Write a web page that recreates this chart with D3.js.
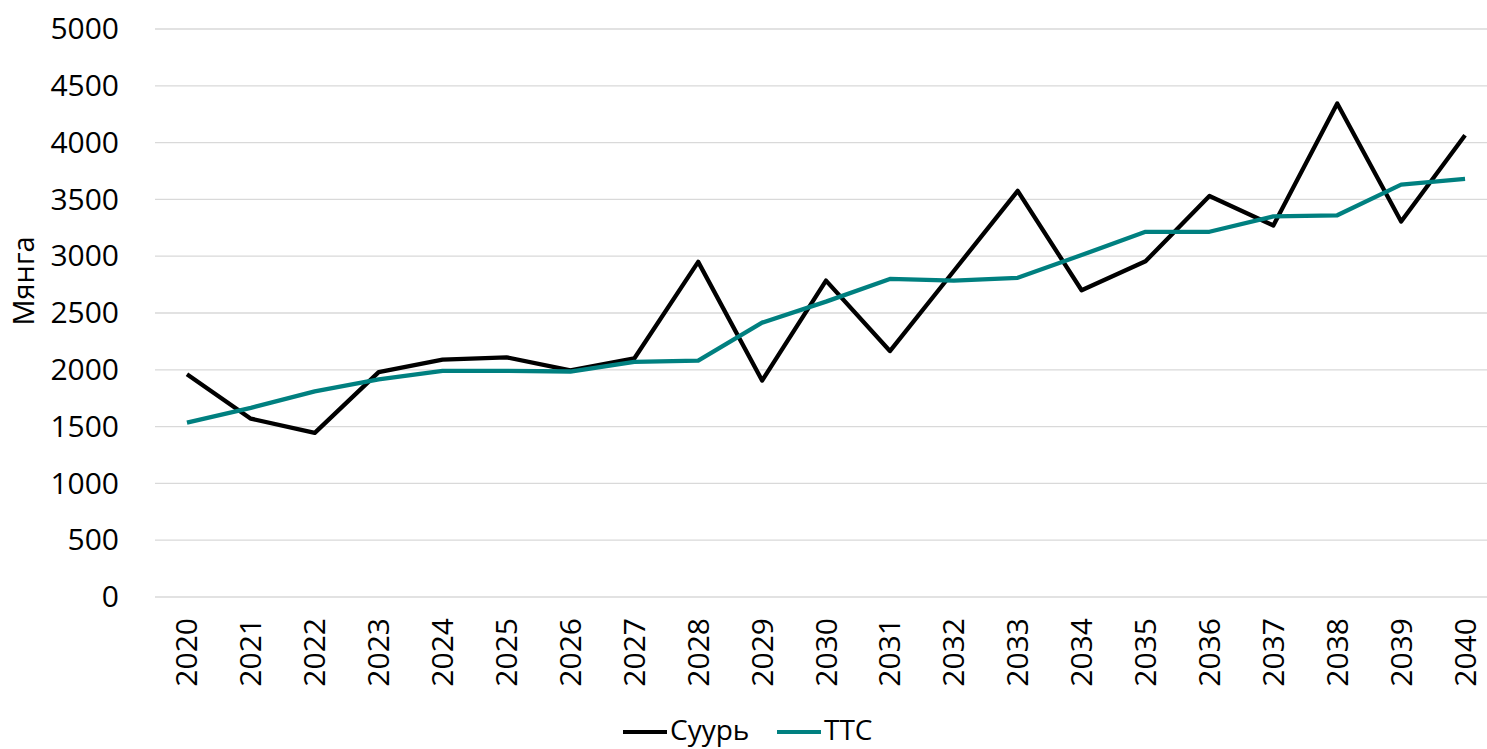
<!DOCTYPE html>
<html>
<head>
<meta charset="utf-8">
<script src="https://cdn.jsdelivr.net/npm/d3@7"></script>
<style>
  body { margin: 0; background: #fff; }
  svg { display: block; font-family: "Open Sans", sans-serif; }
</style>
</head>
<body>
<svg id="chart" width="1487" height="749"></svg>
<script>
// ----- DATA -----
var years = ["2020","2021","2022","2023","2024","2025","2026","2027","2028","2029","2030",
             "2031","2032","2033","2034","2035","2036","2037","2038","2039","2040"];
var baseValues = [1960,1570,1445,1980,2090,2110,1995,2100,2950,1905,2785,
                  2165,2870,3575,2700,2955,3530,3270,4345,3305,4065];
var ttsValues = [1535,1665,1810,1915,1990,1990,1985,2070,2080,2415,2600,
                 2800,2785,2810,3010,3215,3215,3350,3360,3630,3680];
var yTicks = [0,500,1000,1500,2000,2500,3000,3500,4000,4500,5000];
var seriesNames = ["Суурь", "ТТС"];
var seriesColors = ["#000000", "#008080"];

// ----- LAYOUT -----
var svg = d3.select("#chart");
var margin = {left: 155, right: 1497, top: 29, bottom: 597};

var x = d3.scaleBand()
    .domain(years)
    .range([margin.left, margin.right]);

var y = d3.scaleLinear()
    .domain([0, 5000])
    .range([margin.bottom, margin.top]);

// gridlines
svg.append("g")
    .selectAll("line")
    .data(yTicks)
    .enter().append("line")
    .attr("x1", margin.left)
    .attr("x2", margin.right)
    .attr("y1", function(d) { return y(d); })
    .attr("y2", function(d) { return y(d); })
    .attr("stroke", "#d9d9d9")
    .attr("stroke-width", 1.3);

// y axis
var yAxis = svg.append("g")
    .attr("transform", "translate(" + margin.left + ",0)")
    .call(d3.axisLeft(y).tickValues(yTicks).tickFormat(d3.format("d")).tickSize(0).tickPadding(36));
yAxis.select(".domain").remove();
yAxis.selectAll("text")
    .attr("font-family", "Open Sans, sans-serif")
    .style("font-size", "30px")
    .attr("fill", "#000");

// x axis
var xAxis = svg.append("g")
    .attr("transform", "translate(0," + margin.bottom + ")")
    .call(d3.axisBottom(x).tickSize(0).tickPadding(0));
xAxis.select(".domain").remove();
xAxis.selectAll("text")
    .attr("font-family", "Open Sans, sans-serif")
    .style("font-size", "30px")
    .attr("fill", "#000")
    .attr("text-anchor", "end")
    .attr("dy", "0.35em")
    .attr("transform", "translate(0,21) rotate(-90)");

// y axis title
svg.append("text")
    .attr("transform", "translate(24,281) rotate(-90)")
    .attr("text-anchor", "middle")
    .attr("dy", "0.35em")
    .style("font-size", "29px")
    .text("Мянга");

// ----- LINES -----
var line = d3.line()
    .x(function(d, i) { return x(years[i]) + x.bandwidth() / 2; })
    .y(function(d) { return y(d); });

[baseValues, ttsValues].forEach(function(vals, k) {
    svg.append("path")
        .datum(vals)
        .attr("d", line)
        .attr("fill", "none")
        .attr("stroke", seriesColors[k])
        .attr("stroke-width", 4.3)
        .attr("stroke-linejoin", "round");
});

// ----- LEGEND -----
var legend = svg.append("g").attr("transform", "translate(623,730)");
var legendX = [0, 154];
seriesNames.forEach(function(name, k) {
    var g = legend.append("g").attr("transform", "translate(" + legendX[k] + ",0)");
    g.append("line")
        .attr("x1", 0).attr("x2", 44)
        .attr("y1", 2).attr("y2", 2)
        .attr("stroke", seriesColors[k])
        .attr("stroke-width", 4);
    g.append("text")
        .attr("x", 47)
        .attr("dy", "0.35em")
        .style("font-size", "28px")
        .text(name);
});
</script>
</body>
</html>
